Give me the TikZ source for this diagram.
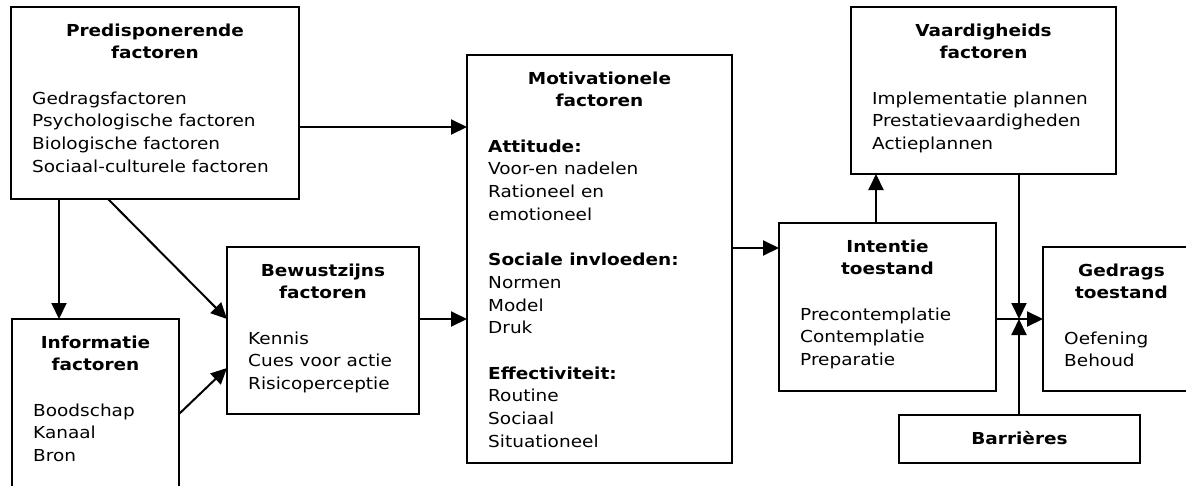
\documentclass[tikz,border=0pt]{standalone}
\usepackage{fontspec}
\setmainfont{DejaVu Sans}[FakeStretch=1.12]
\usetikzlibrary{arrows.meta,calc}
\tikzset{
  box/.style={draw, line width=2pt, inner sep=0pt, outer sep=0pt},
  arr/.style={line width=2pt, -{Triangle[length=16pt,width=15pt]}},
  titletxt/.style={anchor=base, inner sep=0pt, font=\fontsize{16.5pt}{22.7pt}\selectfont\bfseries},
  bodytxt/.style={anchor=base west, inner sep=0pt, font=\fontsize{16.5pt}{22.7pt}\selectfont},
}
\newcommand{\ttl}[3]{\node[titletxt] at ([yshift={-29pt-#2*22.7pt}]#1.north) {#3};}
\newcommand{\bdy}[3]{\node[bodytxt] at ([xshift=21pt,yshift={-29pt-#2*22.7pt}]#1.north west) {#3};}
\begin{document}
\begin{tikzpicture}[x=1pt,y=-1pt]
\useasboundingbox (0,0) rectangle (1186,485);
\fill[white] (0,0) rectangle (1186,485);
\clip (0,0) rectangle (1186,485);
% boxes
\node[box, minimum width=288pt, minimum height=192pt] (pred) at (155,103) {};
\node[box, minimum width=167pt, minimum height=200pt] (info) at (95.5,419) {};
\node[box, minimum width=192pt, minimum height=167pt] (bew) at (323,330.5) {};
\node[box, minimum width=265pt, minimum height=408pt] (motiv) at (599.5,259) {};
\node[box, minimum width=265pt, minimum height=167pt] (vaard) at (983.5,90.5) {};
\node[box, minimum width=217pt, minimum height=168pt] (intent) at (887.5,307) {};
\node[box, minimum width=157pt, minimum height=144pt] (gedr) at (1121.5,319) {};
\node[box, minimum width=241pt, minimum height=48pt] (barr) at (1019.5,439) {};
% texts
\ttl{pred}{0}{Predisponerende}
\ttl{pred}{1}{factoren}
\bdy{pred}{3}{Gedragsfactoren}
\bdy{pred}{4}{Psychologische factoren}
\bdy{pred}{5}{Biologische factoren}
\bdy{pred}{6}{Sociaal-culturele factoren}
\ttl{info}{0}{Informatie}
\ttl{info}{1}{factoren}
\bdy{info}{3}{Boodschap}
\bdy{info}{4}{Kanaal}
\bdy{info}{5}{Bron}
\ttl{bew}{0}{Bewustzijns}
\ttl{bew}{1}{factoren}
\bdy{bew}{3}{Kennis}
\bdy{bew}{4}{Cues voor actie}
\bdy{bew}{5}{Risicoperceptie}
\ttl{motiv}{0}{Motivationele}
\ttl{motiv}{1}{factoren}
\bdy{motiv}{3}{\textbf{Attitude:}}
\bdy{motiv}{4}{Voor-en nadelen}
\bdy{motiv}{5}{Rationeel en}
\bdy{motiv}{6}{emotioneel}
\bdy{motiv}{8}{\textbf{Sociale invloeden:}}
\bdy{motiv}{9}{Normen}
\bdy{motiv}{10}{Model}
\bdy{motiv}{11}{Druk}
\bdy{motiv}{13}{\textbf{Effectiviteit:}}
\bdy{motiv}{14}{Routine}
\bdy{motiv}{15}{Sociaal}
\bdy{motiv}{16}{Situationeel}
\ttl{vaard}{0}{Vaardigheids}
\ttl{vaard}{1}{factoren}
\bdy{vaard}{3}{Implementatie plannen}
\bdy{vaard}{4}{Prestatievaardigheden}
\bdy{vaard}{5}{Actieplannen}
\ttl{intent}{0}{Intentie}
\ttl{intent}{1}{toestand}
\bdy{intent}{3}{Precontemplatie}
\bdy{intent}{4}{Contemplatie}
\bdy{intent}{5}{Preparatie}
\ttl{gedr}{0}{Gedrags}
\ttl{gedr}{1}{toestand}
\bdy{gedr}{3}{Oefening}
\bdy{gedr}{4}{Behoud}
\node[titletxt] at ([yshift=-5.5pt]barr.center) {Barrières};
% helper coordinates
\coordinate (h1) at (0,127);
\coordinate (h2) at (0,319);
\coordinate (h3) at (0,414);
\coordinate (h4) at (0,368);
\coordinate (h5) at (0,248);
\coordinate (v1) at (59,0);
\coordinate (v2) at (108,0);
\coordinate (v3) at (876,0);
\coordinate (j) at (1019,319);
% connectors
\draw[arr] (pred.east |- h1) -- (motiv.west |- h1);
\draw[arr] (pred.south -| v1) -- (info.north -| v1);
\draw[arr] (pred.south -| v2) -- (bew.west |- h2);
\draw[arr] (info.east |- h3) -- (bew.west |- h4);
\draw[arr] (bew.east |- h2) -- (motiv.west |- h2);
\draw[arr] (motiv.east |- h5) -- (intent.west |- h5);
\draw[arr] (intent.north -| v3) -- (vaard.south -| v3);
\draw[arr] (vaard.south -| j) -- (j);
\draw[arr] (barr.north -| j) -- (j);
\draw[arr] (intent.east |- h2) -- (gedr.west |- h2);
\end{tikzpicture}
\end{document}
